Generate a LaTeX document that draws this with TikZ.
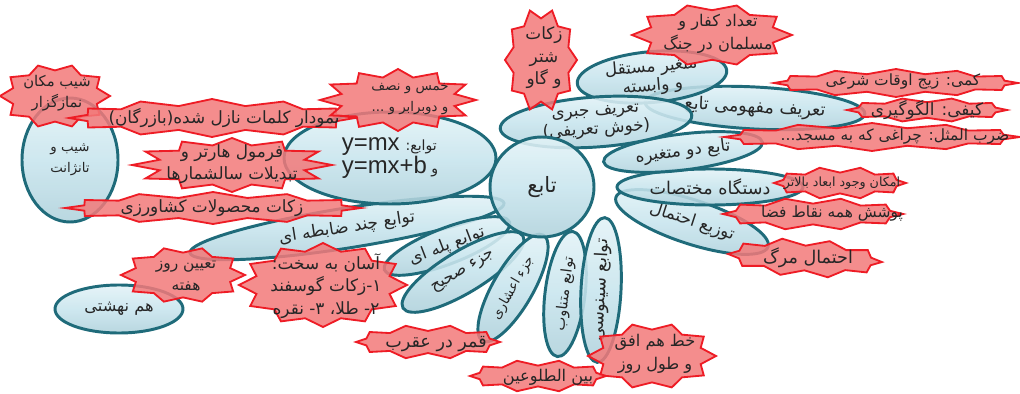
\documentclass[tikz,border=0pt]{standalone}
\usepackage{fontspec}
\usetikzlibrary{shapes.geometric}
\TeXXeTstate=1
\newfontfamily\pfont[Script=Arabic]{DejaVu Sans}
\newfontfamily\lfont{Liberation Sans}
\newcommand\Rl[1]{\beginR #1\endR}
\definecolor{blfill}{HTML}{C8E5EE}
\definecolor{bltop}{HTML}{E3F3F7}
\definecolor{blbot}{HTML}{B0D2DC}
\definecolor{bldraw}{HTML}{1F6B7A}
\definecolor{rdfill}{HTML}{F37A7A}
\definecolor{rddraw}{HTML}{EE1C25}
\definecolor{txt}{HTML}{262626}
\tikzset{
  bl/.style n args={3}{ellipse, draw=bldraw, line width=2.1pt,
    top color=bltop, bottom color=blbot, middle color=blfill,
    fill opacity=0.88, text opacity=1, inner sep=0pt, align=center,
    minimum width={2*#1*0.025cm}, minimum height={2*#2*0.025cm}, rotate=#3,
    font=\pfont\fontsize{14}{16}\selectfont, text=txt},
  fs/.style 2 args={font=\pfont\fontsize{#1}{#2}\selectfont},
  rshape/.style={draw=rddraw, line width=1.3pt, fill=rdfill, fill opacity=0.85, line join=miter},
  rt/.style={font=\pfont\fontsize{11}{15}\selectfont, text=txt, align=center, inner sep=0pt}
}
% center, a, b, n, fx, fy, rot
\newcommand\rstar[7]{%
  \begin{scope}[shift={#1}, rotate=#7]
    \pgfmathtruncatemacro\rsN{2*#4-1}
    \filldraw[rshape] plot[samples at={0,...,\rsN}, variable=\t]
      ({#2*(1-#5*mod(\t,2))*cos(\t*180/#4)}, {#3*(1-#6*mod(\t,2))*sin(\t*180/#4)}) -- cycle;
  \end{scope}}
\begin{document}
\begin{tikzpicture}[x=0.025cm,y=-0.025cm]
\fill[white] (0,0) rectangle (1020,394);
\useasboundingbox (0,0) rectangle (1020,394);
% blue petals
\node[bl={159}{20}{9}, fs={12}{14}] (chand) at (347,228) {\Rl{توابع چند ضابطه ای}};
\node[bl={67}{18}{21}, fs={12}{14}] (pelle) at (447,246) {\Rl{توابع پله ای}};
\node[bl={70}{21}{31}, fs={11.5}{14}] (sahih) at (463,272) {\Rl{جزء صحیح}};
\node[bl={61}{20}{60}, fs={9.5}{12}] (ashari) at (513,288) {\Rl{جزء اعشاری}};
\node[bl={63}{20}{83}, fs={10.5}{12}] (motanaveb) at (565,294) {\Rl{توابع متناوب}};
\node[bl={64}{20}{87}, fs={12.5}{14}] (sinusi) at (601,290) {\Rl{توابع سینوسی}};
\node[bl={80}{22}{-18}, fs={12}{14}] (tozi) at (692,222) {\Rl{توزیع احتمال}};
\node[bl={93}{18}{0}, fs={12.5}{14}] (dastgah) at (710,187) {\Rl{دستگاه مختصات}};
\node[bl={80}{18}{7}, fs={12}{14}] (do) at (683,152) {\Rl{تابع دو متغیره}};
\node[bl={110}{21}{-3}, fs={12.5}{14}] (mafhoomi) at (755,108) {\Rl{تعریف مفهومی تابع}};
\node[bl={75}{24}{5}, fs={12}{13.5}] (motaghayer) at (652,77) {\Rl{متغیر مستقل}\\\Rl{و وابسته}};
\node[bl={96}{25}{4}, fs={12}{13.5}] (jabri) at (596,122) {\Rl{تعریف جبری}\\\Rl{(خوش تعریفی)}};
\node[bl={106}{46}{0}, fs={10}{12}, align=left] (tavabe) at (390,158)
  {\Rl{توابع: \beginL{\lfont\fontsize{17}{20}\selectfont y=mx}\endL}\\
   \Rl{و \beginL{\lfont\fontsize{17}{20}\selectfont y=mx+b}\endL}};
\node[bl={48}{62}{0}, fs={9.5}{15}] (shib) at (70,160) {\Rl{شیب و}\\\Rl{تانژانت}};
\node[bl={64}{24}{0}, fs={11.5}{14}] (hamnahesh) at (119,309) {\Rl{هم نهشتی}};
\node[bl={52}{50}{0}, fs={15}{16}] (tabe) at (542,187) {\Rl{تابع}};
% red shapes
\rstar{(55,96)}{55}{32}{10}{0.2}{0.2}{0}
\node[rt, fs={10.5}{15}] (r1) at (57,93) {\Rl{شیب مکان}\\\Rl{نمازگزار}};
\rstar{(212,118)}{143}{19}{12}{0.1}{0.35}{0}
\node[rt, fs={12}{14}] (r2) at (224,118) {\Rl{نمودار کلمات نازل شده(بازرگان)}};
\rstar{(398,100)}{78}{31}{12}{0.25}{0.25}{0}
\node[rt, fs={9.5}{15.5}] (r3) at (410,99) {\Rl{خمس و نصف}\\\Rl{و دوبرابر و ...}};
\rstar{(232,165)}{100}{27}{12}{0.25}{0.25}{0}
\node[rt, fs={12}{16}] (r4) at (232,164) {\Rl{فرمول هارتر و}\\\Rl{تبدیلات سالشمارها}};
\rstar{(213,208)}{148}{16}{12}{0.1}{0.35}{0}
\node[rt, fs={12}{14}] (r5) at (212,208) {\Rl{زکات محصولات کشاورزی}};
\rstar{(541,60)}{36}{52}{10}{0.2}{0.2}{0}
\node[rt, fs={12}{16}] (r6) at (544,58) {\Rl{زکات}\\\Rl{شتر}\\\Rl{و گاو}};
\rstar{(712,35)}{80}{31}{10}{0.2}{0.2}{0}
\node[rt, fs={11.5}{16}] (r7) at (718,34) {\Rl{تعداد کفار و}\\\Rl{مسلمان در جنگ}};
\rstar{(896,83)}{122}{14}{12}{0.08}{0.35}{0}
\node[rt, fs={11}{12}] (r8) at (903,82) {\Rl{کمی: زیج اوقات شرعی}};
\rstar{(927,110)}{80}{12}{10}{0.1}{0.35}{0}
\node[rt, fs={12}{13}] (r9) at (927,110) {\Rl{کیفی: الگوگیری}};
\rstar{(872,137)}{148}{14}{12}{0.08}{0.35}{0}
\node[rt, fs={11}{13}] (r10) at (895,137) {\Rl{ضرب المثل: چراغی که به مسجد...}};
\rstar{(840,183)}{66}{16}{10}{0.1}{0.35}{0}
\node[rt, fs={9}{11}] (r11) at (842,183) {\Rl{امکان وجود ابعاد بالاتر}};
\rstar{(813,214)}{90}{16}{10}{0.1}{0.35}{0}
\node[rt, fs={11}{13}] (r12) at (832,214) {\Rl{پوشش همه نقاط فضا}};
\rstar{(805,258)}{77}{19}{10}{0.1}{0.35}{-3}
\node[rt, fs={12.5}{14}] (r13) at (808,258) {\Rl{احتمال مرگ}};
\rstar{(652,356)}{64}{33}{10}{0.2}{0.2}{0}
\node[rt, fs={11.5}{16}] (r14) at (655,354) {\Rl{خط هم افق}\\\Rl{و طول روز}};
\rstar{(538,376)}{68}{16}{10}{0.1}{0.35}{0}
\node[rt, fs={11.5}{13}] (r15) at (548,377) {\Rl{بین الطلوعین}};
\rstar{(428,342)}{72}{17}{10}{0.1}{0.35}{0}
\node[rt, fs={12.5}{14}] (r16) at (436,344) {\Rl{قمر در عقرب}};
\rstar{(323,285)}{84}{42}{12}{0.18}{0.18}{0}
\node[rt, fs={12}{16}] (r17) at (326,286) {\Rl{آسان به سخت:}\\\Rl{۱-زکات گوسفند}\\\Rl{۲- طلا، ۳- نقره}};
\rstar{(183,275)}{62}{28}{10}{0.2}{0.2}{0}
\node[rt, fs={11}{15.5}] (r18) at (186,276) {\Rl{تعیین روز}\\\Rl{هفته}};
\end{tikzpicture}
\end{document}
